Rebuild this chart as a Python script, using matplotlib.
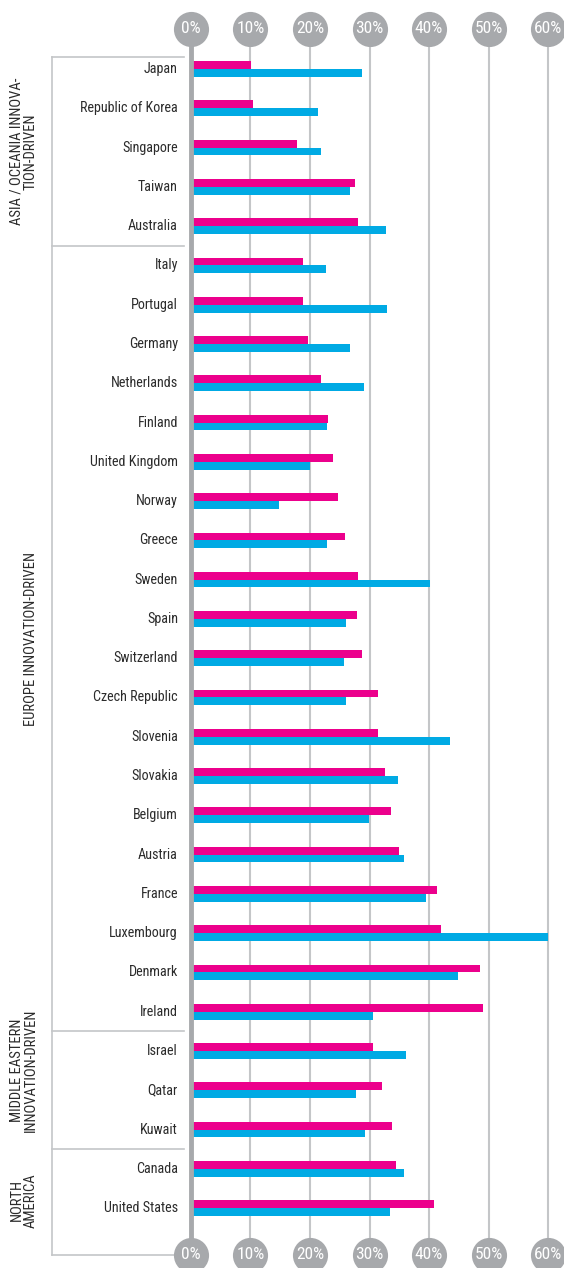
import matplotlib
matplotlib.use('Agg')
import matplotlib.pyplot as plt
import numpy as np

plt.rcParams['font.family'] = ['Roboto Condensed', 'Archivo Narrow', 'DejaVu Sans']

countries = ['Japan', 'Republic of Korea', 'Singapore', 'Taiwan', 'Australia',
             'Italy', 'Portugal', 'Germany', 'Netherlands', 'Finland',
             'United Kingdom', 'Norway', 'Greece', 'Sweden', 'Spain',
             'Switzerland', 'Czech Republic', 'Slovenia', 'Slovakia', 'Belgium',
             'Austria', 'France', 'Luxembourg', 'Denmark', 'Ireland',
             'Israel', 'Qatar', 'Kuwait', 'Canada', 'United States']

pink_vals = [10.1, 10.4, 17.8, 27.6, 28.0,
             18.9, 18.9, 19.7, 21.8, 23.0,
             23.9, 24.7, 25.8, 28.0, 27.9,
             28.8, 31.5, 31.5, 32.6, 33.6,
             34.9, 41.4, 42.1, 48.5, 49.1,
             30.6, 32.1, 33.8, 34.4, 40.9]

blue_vals = [28.7, 21.3, 21.8, 26.7, 32.7,
             22.7, 33.0, 26.7, 29.1, 22.8,
             20.0, 14.8, 22.8, 40.2, 26.0,
             25.7, 26.0, 43.5, 34.8, 29.9,
             35.8, 39.5, 60.0, 44.9, 30.6,
             36.1, 27.7, 29.2, 35.8, 33.4]

groups = ['ASIA / OCEANIA INNOVA-\nTION-DRIVEN', 'EUROPE INNOVATION-DRIVEN',
          'MIDDLE EASTERN\nINNOVATION-DRIVEN', 'NORTH\nAMERICA']
group_sizes = [5, 20, 3, 2]

ticks = [0, 10, 20, 30, 40, 50, 60]
tick_labels = ['0%', '10%', '20%', '30%', '40%', '50%', '60%']

PINK = '#ec008c'
BLUE = '#00aae4'
GREY = '#a7a9ac'
LINE = '#c4c6c8'
TXT = '#2b2b2b'

# pixel layout helpers
W, H = 564, 1268
x0_px, x60_px = 191, 548
ppu = (x60_px - x0_px) / 60.0
row0_px, row_step = 69, 39.28

def xd(px):
    return (px - x0_px) / ppu

def yd(px):
    return (px - row0_px) / row_step

fig = plt.figure(figsize=(W / 100, H / 100), dpi=100)
ax = fig.add_axes([0, 0, 1, 1])
ax.set_xlim(xd(0), xd(W))
ax.set_ylim(yd(H), yd(0))
ax.axis('off')

y = np.arange(len(countries))
y_top, y_bot = yd(29), yd(1255)

# gridlines and zero axis
for t in ticks[1:]:
    ax.plot([t, t], [y_top, y_bot], color=LINE, lw=1.5, zorder=1)
ax.plot([0, 0], [y_top, y_bot], color=GREY, lw=3.5, zorder=3, solid_capstyle='butt')

# bars
bh = 0.2
ax.barh(y - bh / 2, pink_vals, height=bh, color=PINK, zorder=2)
ax.barh(y + bh / 2, blue_vals, height=bh, color=BLUE, zorder=2)

# country labels
for i, c in enumerate(countries):
    ax.text(xd(178), i, c, ha='right', va='center', fontsize=10.2, color=TXT)

# group boxes
bx_l, bx_r = xd(52), xd(184)
top_line, bot_line = yd(57), yd(1255)
ax.plot([bx_l, bx_r], [top_line, top_line], color=LINE, lw=1.2)
ax.plot([bx_l, bx_r], [bot_line, bot_line], color=LINE, lw=1.2)
ax.plot([bx_l, bx_l], [top_line, bot_line], color=LINE, lw=1.2)
edges = np.cumsum(group_sizes)
for e in edges[:-1]:
    ax.plot([bx_l, bx_r], [e - 0.5, e - 0.5], color=LINE, lw=1.2)

starts = np.concatenate([[0], edges[:-1]])
centers = [(s + e - 1) / 2 for s, e in zip(starts, edges)]
centers[0] += 0.1
centers[2] -= 0.5
centers[3] += 0.3
for g, cy in zip(groups, centers):
    ax.text(xd(38), cy, g, rotation=90, ha='right', va='center',
            multialignment='center', fontsize=10.5, color=TXT, linespacing=1.0)

# circle tick labels top and bottom
for yy in (y_top, y_bot):
    ax.scatter(ticks, [yy] * len(ticks), s=640, color=GREY, zorder=4, linewidths=0)
    for t, lab in zip(ticks, tick_labels):
        ax.text(t, yy, lab, ha='center', va='center', color='white', fontsize=12.5, zorder=5)

fig.savefig('out.png', dpi=100)
